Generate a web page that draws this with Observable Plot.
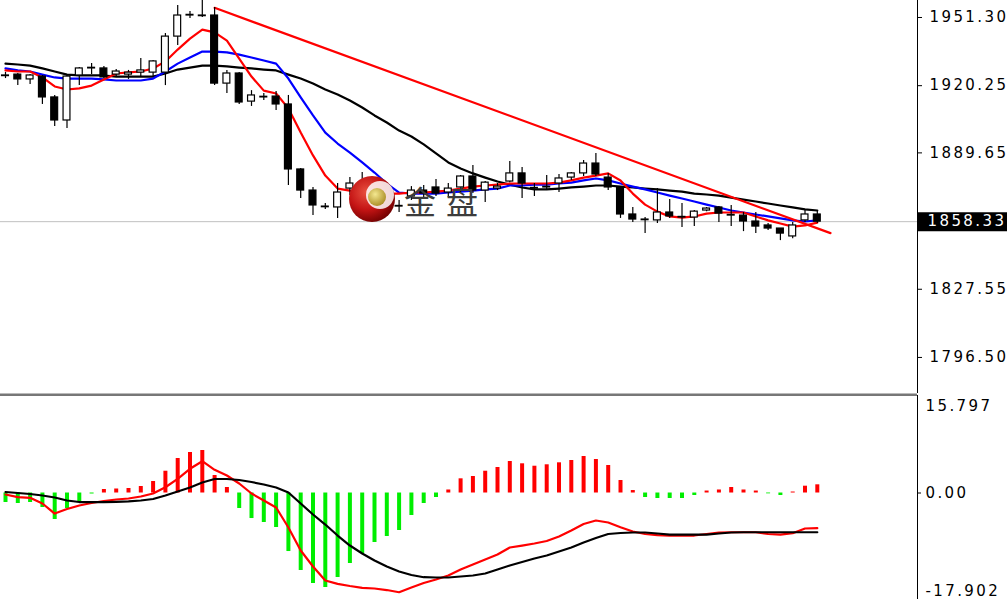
<!DOCTYPE html>
<html><head><meta charset="utf-8">
<script src="https://cdn.jsdelivr.net/npm/d3@7"></script>
<script src="https://cdn.jsdelivr.net/npm/@observablehq/plot@0.6"></script>
<style>
html,body{margin:0;padding:0;background:#fff;}
#wrap{position:relative;width:1007px;height:599px;overflow:hidden;background:#fff;}
#main{position:absolute;left:0;top:0;}
#macd{position:absolute;left:0;top:395px;}
#logo{position:absolute;left:0;top:0;pointer-events:none;}
#main svg text,#macd svg text{font-family:"DejaVu Sans",sans-serif;letter-spacing:2.4px;}
</style></head><body>
<div id="wrap"><div id="main"></div><div id="macd"></div>
<svg id="logo" width="1007" height="599">
<defs>
<radialGradient id="rg" cx="38%" cy="35%" r="70%"><stop offset="0" stop-color="#e85040"/><stop offset="0.55" stop-color="#c41414"/><stop offset="1" stop-color="#6e0000"/></radialGradient>
<radialGradient id="gg" cx="40%" cy="35%" r="70%"><stop offset="0" stop-color="#f4e890"/><stop offset="1" stop-color="#a88a20"/></radialGradient>
</defs>
<circle cx="372" cy="199" r="23" fill="url(#rg)"/>
<circle cx="380" cy="195" r="14" fill="#ffffff" opacity="0.85"/>
<circle cx="377" cy="197" r="9" fill="url(#gg)"/>
<text x="404" y="214" font-family="Noto Sans CJK SC" font-size="32" fill="#3c3c3c">金</text>
<text x="446" y="214" font-family="Noto Sans CJK SC" font-size="32" fill="#3c3c3c">盘</text>
</svg>
</div>
<script>
// ---- candle data (index 0..66) ----
const opens  = [1924.9,1925.3,1923.1,1924.4,1914.9,1904.4,1924.9,1928.1,1928.1,1925.3,1925.3,1926.2,1926.2,1926.2,1942.6,1952.2,1952.2,1952.2,1921.2,1925.8,1913.0,1914.9,1915.3,1911.7,1882.1,1872.5,1865.2,1864.8,1873.4,1872.5,1870.2,1873.0,1865.2,1869.8,1872.5,1873.9,1871.6,1873.9,1878.9,1872.5,1873.4,1876.6,1880.3,1873.4,1873.9,1875.7,1878.4,1880.3,1884.8,1878.4,1873.9,1861.6,1859.3,1858.9,1862.5,1860.2,1860.2,1863.4,1864.8,1861.1,1861.1,1858.4,1856.6,1855.2,1851.6,1858.9,1861.6];
const highs  = [1926.3,1925.8,1925.3,1924.9,1915.8,1925.3,1928.5,1930.3,1929.0,1927.6,1927.2,1932.6,1931.7,1944.0,1956.8,1954.0,1959.0,1955.9,1927.2,1926.3,1918.0,1916.7,1917.6,1915.8,1882.5,1873.9,1866.6,1875.7,1878.4,1880.7,1874.8,1874.8,1868.0,1874.3,1874.8,1877.5,1875.7,1879.3,1883.9,1876.6,1875.7,1885.7,1883.0,1875.7,1879.3,1879.8,1880.7,1886.2,1889.4,1880.3,1873.9,1864.8,1860.2,1873.4,1868.4,1866.6,1863.4,1864.8,1865.2,1865.7,1862.5,1862.5,1857.5,1855.2,1857.9,1863.4,1863.4];
const lows   = [1923.5,1920.3,1920.8,1911.7,1901.7,1900.8,1920.3,1925.3,1923.5,1924.4,1923.1,1924.0,1924.4,1920.3,1938.5,1950.8,1951.3,1920.3,1916.7,1911.7,1910.8,1913.5,1909.0,1874.8,1868.9,1861.1,1863.9,1859.8,1870.2,1870.2,1868.0,1865.7,1862.5,1868.0,1869.3,1869.8,1869.3,1871.6,1871.1,1867.0,1872.5,1876.1,1868.9,1869.8,1872.5,1871.6,1877.1,1878.9,1878.9,1872.5,1859.8,1857.9,1852.9,1857.5,1859.8,1855.7,1856.1,1862.9,1857.9,1856.1,1853.8,1852.9,1854.3,1849.7,1850.6,1857.9,1857.5];
const closes = [1924.6,1923.1,1924.9,1914.9,1904.4,1924.4,1928.1,1928.4,1924.0,1926.7,1926.2,1927.2,1931.3,1942.6,1952.2,1952.5,1951.9,1921.2,1925.8,1912.6,1915.8,1915.2,1911.7,1882.1,1872.5,1865.7,1864.9,1871.6,1875.7,1876.1,1872.5,1866.6,1865.5,1872.5,1871.1,1871.1,1873.4,1878.9,1872.5,1876.1,1874.3,1880.3,1875.7,1873.7,1874.2,1878.0,1880.3,1884.8,1879.8,1873.9,1861.6,1859.3,1859.0,1862.5,1860.7,1860.5,1862.9,1864.3,1862.0,1861.4,1858.4,1856.1,1855.2,1852.9,1856.6,1861.6,1858.33];
// ---- moving averages ----
const maRed   = [1927.2,1926.7,1926.7,1924.0,1919.9,1918.5,1919.0,1920.3,1923.1,1925.8,1926.3,1926.7,1928.1,1931.3,1936.7,1941.7,1945.8,1944.5,1940.8,1932.6,1924.4,1918.0,1916.7,1909.9,1898.9,1888.5,1879.3,1873.4,1872.5,1872.0,1871.6,1871.1,1871.1,1871.6,1871.6,1872.0,1872.5,1873.4,1874.3,1874.8,1875.2,1875.7,1875.7,1875.7,1875.7,1876.1,1877.1,1878.4,1879.3,1880.3,1877.1,1871.1,1866.1,1862.9,1860.7,1860.2,1860.7,1862.0,1862.5,1862.5,1862.5,1860.7,1858.9,1857.5,1856.1,1856.6,1857.9];
const maBlue  = [1928.1,1927.2,1926.7,1925.3,1924.0,1923.5,1923.5,1923.5,1923.1,1922.6,1922.6,1922.6,1923.5,1926.7,1930.3,1933.1,1935.8,1935.8,1935.4,1934.4,1933.1,1931.7,1930.3,1923.5,1914.9,1906.7,1898.9,1893.9,1889.8,1885.3,1880.7,1875.7,1871.6,1871.1,1871.1,1871.1,1871.6,1872.0,1872.5,1873.0,1873.4,1874.8,1874.8,1875.2,1875.2,1875.7,1876.1,1877.1,1878.0,1877.1,1875.7,1874.3,1873.0,1871.6,1870.2,1868.9,1867.5,1866.1,1864.8,1863.4,1862.5,1861.6,1860.7,1859.8,1858.9,1858.4,1858.9];
const maBlack = [1930.3,1929.9,1929.4,1928.1,1926.7,1925.3,1924.9,1924.9,1924.9,1924.4,1924.4,1924.4,1924.4,1925.8,1927.6,1928.5,1929.4,1929.4,1929.0,1928.5,1928.1,1927.6,1927.2,1925.3,1923.5,1921.2,1918.5,1916.2,1913.5,1910.3,1906.7,1903.5,1899.8,1897.1,1893.5,1889.4,1885.3,1882.5,1880.3,1878.4,1876.6,1875.2,1873.9,1873.0,1873.0,1873.4,1873.9,1874.3,1874.8,1874.8,1874.3,1873.9,1873.4,1873.0,1872.5,1872.0,1871.1,1870.7,1870.2,1869.3,1868.4,1867.5,1866.6,1865.7,1864.8,1863.9,1863.4];
// ---- trend line (index, price) ----
const trendIdx = [17, 67.07];
const trendPrice = [1955.7, 1853.1];
// ---- MACD panel ----
const macdHist   = [-1.73,-1.91,-1.73,-2.64,-4.82,-2.82,-1.73,-0.18,0.64,0.73,0.82,1.18,2.09,3.96,6.27,7.36,7.73,3.18,1.0,-2.82,-4.64,-5.36,-6.27,-10.64,-14.09,-16.45,-17.18,-15.36,-12.82,-11.0,-9.0,-7.91,-6.82,-4.09,-1.91,-0.82,0.55,2.58,3.0,3.96,4.64,5.73,5.31,4.87,5.13,5.49,5.91,6.64,6.09,5.0,2.27,0.45,-0.82,-1.0,-1.0,-1.0,-0.45,0.36,0.55,1.0,0.55,0.36,-0.15,-0.45,0.18,1.24,1.49];
const macdMain   = [-0.27,-0.76,-0.87,-1.91,-3.73,-2.91,-2.27,-1.82,-1.45,-1.18,-1.0,-0.64,-0.09,1.05,2.58,4.4,5.78,4.22,3.18,1.73,-0.09,-1.36,-2.64,-6.27,-10.45,-13.36,-15.91,-16.51,-16.91,-17.24,-17.36,-17.64,-18.04,-17.18,-16.36,-15.73,-15.0,-13.91,-13.0,-12.09,-11.18,-9.91,-9.55,-9.18,-8.73,-7.91,-6.82,-5.64,-5.0,-5.36,-6.22,-7.0,-7.45,-7.64,-7.73,-7.73,-7.73,-7.45,-7.18,-7.13,-7.13,-7.13,-7.45,-7.55,-7.31,-6.45,-6.4];
const macdSignal = [0.18,0,-0.18,-0.45,-0.82,-1.36,-1.64,-1.67,-1.67,-1.6,-1.51,-1.36,-1.09,-0.45,0.27,1.0,1.91,2.55,2.55,2.36,2.0,1.55,1.0,0.09,-1.91,-3.91,-5.73,-7.73,-9.55,-11.0,-12.27,-13.36,-14.27,-14.91,-15.31,-15.36,-15.36,-15.18,-15.0,-14.64,-13.91,-13.18,-12.55,-11.91,-11.36,-10.64,-9.91,-9.0,-8.18,-7.45,-7.27,-7.18,-7.18,-7.36,-7.55,-7.55,-7.55,-7.55,-7.36,-7.18,-7.13,-7.13,-7.13,-7.13,-7.13,-7.13,-7.13];
// ---- axis ticks ----
const priceTicks = [1951.30, 1920.25, 1889.65, 1827.55, 1796.50];
const lastPrice = 1858.33;
const macdTicks = [15.797, 0, -17.902];
const macdTickLabels = ["15.797", "0.00", "-17.902"];

// ---- layout constants ----
const W = 1007, MR = 90;
const xDomain = [-0.4065, 74.146];
const pxPerIdx = (W - MR) / (xDomain[1] - xDomain[0]);
const xEdge = xDomain[1] + MR / pxPerIdx;
const yDomain = [1780.08, 1959.04];
const macdDomain = [-19.36, 17.727];

const candles = opens.map((o, i) => ({i, open: o, high: highs[i], low: lows[i], close: closes[i]}));
const series = arr => arr.map((v, i) => ({i, v}));
const trend = trendIdx.map((t, k) => ({i: t, v: trendPrice[k]}));
const fmt2 = d3.format(".2f");

const main = Plot.plot({
  width: W, height: 396, marginLeft: 0, marginRight: MR, marginTop: 0, marginBottom: 3,
  x: {domain: xDomain, axis: null},
  y: {domain: yDomain, axis: null},
  style: {background: "white", fontSize: "15px", color: "black"},
  marks: [
    Plot.ruleY([lastPrice], {stroke: "#c0c0c0", strokeWidth: 1}),
    Plot.line(series(maBlack), {x: "i", y: "v", stroke: "black", strokeWidth: 2.2}),
    Plot.line(series(maBlue), {x: "i", y: "v", stroke: "#0000ff", strokeWidth: 2.2}),
    Plot.line(series(maRed), {x: "i", y: "v", stroke: "#ff0000", strokeWidth: 2.2}),
    Plot.line(trend, {x: "i", y: "v", stroke: "#ff0000", strokeWidth: 2.2}),
    Plot.ruleX(candles, {x: "i", y1: "low", y2: "high", stroke: "black", strokeWidth: 1.2}),
    Plot.rect(candles, {x1: d => d.i - 0.28, x2: d => d.i + 0.28, y1: "open", y2: "close",
      fill: d => d.close >= d.open ? "white" : "black", stroke: "black", strokeWidth: 1.2}),
    Plot.ruleX([xDomain[1]], {stroke: "black", strokeWidth: 1}),
    Plot.ruleY([yDomain[0]], {stroke: "#777", strokeWidth: 3, dy: 1.5, x1: () => xDomain[0], x2: () => xDomain[1]}),
    Plot.axisY(priceTicks, {anchor: "right", tickSize: 4, tickPadding: 8, tickFormat: fmt2, fontSize: 15, fill: "black", stroke: "black"}),
    Plot.ruleY([lastPrice], {x1: () => xDomain[1], x2: () => xEdge, stroke: "black", strokeWidth: 19, dx: 1}),
    Plot.text([lastPrice], {y: d => d, frameAnchor: "right", dx: 10, textAnchor: "start", fill: "white", fontSize: 15, text: d => fmt2(d)})
  ]
});
document.getElementById("main").appendChild(main);

const hist = series(macdHist);
const macd = Plot.plot({
  width: W, height: 204, marginLeft: 0, marginRight: MR, marginTop: 0, marginBottom: 0,
  x: {domain: xDomain, axis: null},
  y: {domain: macdDomain, axis: null},
  style: {background: "transparent", fontSize: "15px", color: "black"},
  marks: [
    Plot.ruleX(hist, {x: "i", y1: () => 0, y2: "v", stroke: d => d.v >= 0 ? "#ff0000" : "#00ee00", strokeWidth: 4}),
    Plot.line(series(macdMain), {x: "i", y: "v", stroke: "#ff0000", strokeWidth: 2.2}),
    Plot.line(series(macdSignal), {x: "i", y: "v", stroke: "black", strokeWidth: 2.2}),
    Plot.ruleX([xDomain[1]], {stroke: "black", strokeWidth: 1}),
    Plot.ruleY([0], {x1: () => xDomain[1], x2: () => xDomain[1] + 4 / pxPerIdx, stroke: "black"}),
    Plot.text(macdTicks, {y: d => d, frameAnchor: "right", dx: 8, textAnchor: "start", fill: "black", fontSize: 15, text: (d, i) => macdTickLabels[i]})
  ]
});
document.getElementById("macd").appendChild(macd);
</script>
</body></html>
